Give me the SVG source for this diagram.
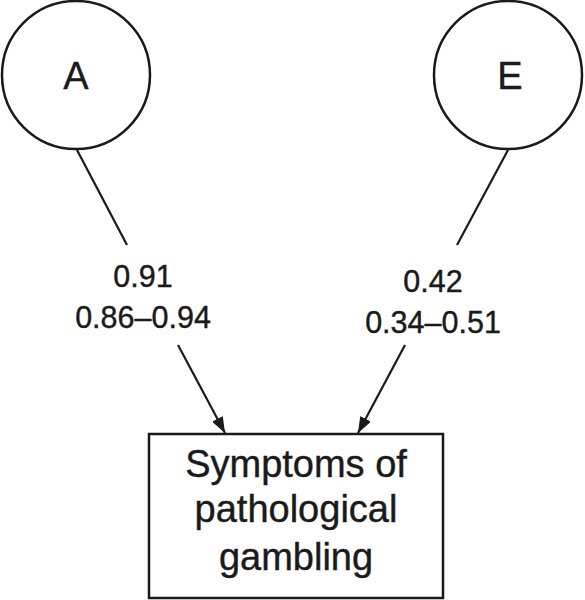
<svg xmlns="http://www.w3.org/2000/svg" width="585" height="600" viewBox="0 0 585 600">
<style>
.n{fill:#fff;stroke:#1a1a1a;stroke-width:2.5}
.c{stroke:#1a1a1a;stroke-width:2.2;fill:none}
text{font-family:"Liberation Sans",Arial,sans-serif;fill:#1a1a1a;stroke:#1a1a1a;stroke-width:0.4;text-anchor:middle}
.lb{font-size:30.5px}
.nl{font-size:38px}
.bx{font-size:38px}
</style>
<defs>
<marker id="ah" viewBox="0 0 16 12" refX="16" refY="6" markerWidth="16" markerHeight="12" markerUnits="userSpaceOnUse" orient="auto">
<path d="M0,0 L16,6 L0,12 z" fill="#1a1a1a"/>
</marker>
</defs>
<rect width="585" height="600" fill="#fff"/>
<g id="connectors">
<line class="c" x1="77" y1="150" x2="127" y2="245"/>
<path class="c" d="M178,345 L225,433" marker-end="url(#ah)"/>
<line class="c" x1="508" y1="150" x2="457" y2="245"/>
<path class="c" d="M405,345 L358,433" marker-end="url(#ah)"/>
</g>
<g id="nodeA">
<circle class="n" cx="76" cy="75" r="74"/>
<text class="nl" x="76" y="89">A</text>
</g>
<g id="nodeE">
<circle class="n" cx="508" cy="75" r="74"/>
<text class="nl" x="510" y="89">E</text>
</g>
<g id="labelA">
<text class="lb" x="143" y="287">0.91</text>
<text class="lb" x="143" y="328">0.86–0.94</text>
</g>
<g id="labelE">
<text class="lb" x="433" y="292">0.42</text>
<text class="lb" x="433" y="333">0.34–0.51</text>
</g>
<g id="box">
<rect class="n" x="149" y="434" width="294" height="164"/>
<text class="bx" x="296" y="477">Symptoms of</text>
<text class="bx" x="296" y="522">pathological</text>
<text class="bx" x="296" y="570">gambling</text>
</g>
</svg>
